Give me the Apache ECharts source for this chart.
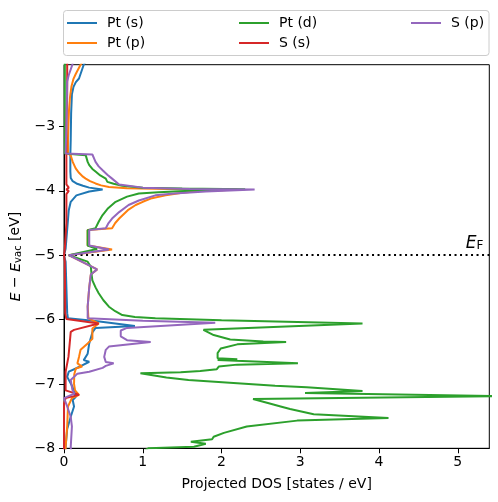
<!DOCTYPE html>
<html><head><meta charset="utf-8">
<script src="https://cdn.jsdelivr.net/npm/echarts@6/dist/echarts.min.js"></script>
<style>html,body{margin:0;padding:0;background:#fff}#c{width:498px;height:502px}</style>
</head><body><div id="c"></div>
<script>
// Projected DOS data: each point is [DOS (states/eV), E - E_vac (eV)]
const seriesNames = ['Pt (s)', 'Pt (p)', 'Pt (d)', 'S (s)', 'S (p)'];
const seriesColors = ['#1f77b4', '#ff7f0e', '#2ca02c', '#d62728', '#9467bd'];

const ptS = [[0.27,-2.00],[0.25,-2.04],[0.19,-2.255],[0.15,-2.31],[0.12,-2.385],[0.10,-2.50],[0.09,-2.80],[0.085,-3.20],[0.08,-3.45],[0.08,-3.70],[0.085,-3.80],[0.11,-3.85],[0.157,-3.885],[0.24,-3.92],[0.32,-3.95],[0.49,-3.98],[0.32,-4.01],[0.157,-4.07],[0.085,-4.17],[0.06,-4.30],[0.04,-4.60],[0.02,-4.90],[0.0,-5.00],[0.02,-5.10],[0.03,-5.50],[0.04,-5.90],[0.05,-5.98],[0.30,-6.01],[0.45,-6.03],[0.90,-6.10],[0.40,-6.13],[0.36,-6.20],[0.32,-6.37],[0.30,-6.53],[0.25,-6.63],[0.32,-6.655],[0.23,-6.71],[0.15,-6.76],[0.06,-6.81],[0.04,-6.89],[0.106,-7.04],[0.15,-7.20],[0.11,-7.25],[0.127,-7.35],[0.085,-7.51],[0.04,-7.70],[0.02,-7.98],[0.01,-8.05]];

const ptP = [[0.23,-2.00],[0.21,-2.04],[0.15,-2.18],[0.12,-2.26],[0.094,-2.38],[0.075,-2.55],[0.063,-2.75],[0.055,-3.00],[0.05,-3.20],[0.05,-3.42],[0.085,-3.45],[0.11,-3.55],[0.148,-3.65],[0.19,-3.72],[0.24,-3.78],[0.275,-3.81],[0.33,-3.85],[0.40,-3.885],[0.47,-3.915],[0.57,-3.94],[0.80,-3.96],[1.50,-3.975],[2.20,-3.98],[2.00,-3.99],[1.75,-4.00],[1.50,-4.03],[1.29,-4.07],[1.10,-4.12],[1.00,-4.17],[0.91,-4.22],[0.81,-4.30],[0.75,-4.37],[0.70,-4.43],[0.65,-4.50],[0.61,-4.58],[0.61,-4.60],[0.30,-4.61],[0.30,-4.85],[0.61,-4.91],[0.06,-5.00],[0.42,-5.22],[0.34,-5.30],[0.32,-5.50],[0.30,-5.80],[0.31,-5.98],[0.44,-6.06],[0.36,-6.14],[0.36,-6.30],[0.30,-6.37],[0.21,-6.47],[0.19,-6.58],[0.17,-6.68],[0.23,-6.73],[0.15,-6.76],[0.13,-6.85],[0.127,-7.00],[0.14,-7.10],[0.19,-7.17],[0.10,-7.22],[0.05,-7.35],[0.04,-7.66],[0.02,-7.98],[0.02,-8.05]];

const ptD = [[0.01,-2.00],[0.01,-2.30],[0.01,-3.00],[0.01,-3.42],[0.275,-3.445],[0.30,-3.55],[0.32,-3.60],[0.36,-3.66],[0.40,-3.70],[0.46,-3.76],[0.53,-3.81],[0.55,-3.86],[0.63,-3.89],[0.74,-3.92],[1.00,-3.95],[1.50,-3.965],[2.30,-3.975],[1.60,-4.00],[1.20,-4.02],[0.95,-4.04],[0.80,-4.09],[0.655,-4.17],[0.56,-4.27],[0.487,-4.38],[0.44,-4.48],[0.40,-4.58],[0.30,-4.61],[0.30,-4.85],[0.42,-4.905],[0.06,-5.00],[0.30,-5.10],[0.34,-5.18],[0.35,-5.30],[0.36,-5.39],[0.40,-5.50],[0.44,-5.59],[0.50,-5.70],[0.57,-5.80],[0.65,-5.87],[0.74,-5.93],[0.90,-5.96],[1.16,-5.98],[2.00,-6.01],[3.79,-6.06],[1.77,-6.16],[1.90,-6.24],[2.11,-6.31],[2.53,-6.34],[2.82,-6.35],[2.20,-6.385],[1.99,-6.45],[1.95,-6.52],[1.95,-6.60],[2.20,-6.615],[1.95,-6.63],[2.97,-6.68],[2.20,-6.70],[1.965,-6.73],[1.94,-6.77],[1.73,-6.80],[1.48,-6.82],[0.97,-6.835],[1.30,-6.90],[1.58,-6.94],[2.20,-6.99],[2.68,-7.03],[3.08,-7.05],[3.79,-7.11],[3.06,-7.14],[5.60,-7.19],[2.40,-7.235],[2.60,-7.30],[2.75,-7.35],[2.87,-7.39],[3.17,-7.47],[4.12,-7.53],[2.96,-7.57],[2.32,-7.66],[2.03,-7.76],[1.90,-7.82],[1.88,-7.86],[1.61,-7.90],[1.80,-7.93],[1.65,-7.975],[1.07,-8.00],[1.00,-8.05]];

const sS = [[0.04,-2.00],[0.04,-2.50],[0.03,-3.00],[0.03,-3.42],[0.03,-3.90],[0.06,-3.95],[0.03,-3.98],[0.06,-4.00],[0.03,-4.05],[0.03,-4.50],[0.01,-4.90],[0.0,-5.00],[0.01,-5.10],[0.015,-5.90],[0.03,-5.99],[0.44,-6.06],[0.127,-6.16],[0.085,-6.19],[0.072,-6.37],[0.056,-6.58],[0.02,-6.81],[0.02,-7.10],[0.15,-7.15],[0.19,-7.17],[0.02,-7.22],[0.0,-7.30],[0.0,-8.05]];

const sP = [[0.11,-2.00],[0.106,-2.04],[0.06,-2.20],[0.04,-2.30],[0.03,-2.32],[0.03,-3.00],[0.02,-3.42],[0.36,-3.435],[0.40,-3.55],[0.44,-3.62],[0.49,-3.68],[0.55,-3.75],[0.61,-3.81],[0.70,-3.90],[1.00,-3.95],[1.60,-3.97],[2.42,-3.98],[1.80,-4.01],[1.40,-4.04],[1.16,-4.07],[0.95,-4.15],[0.82,-4.22],[0.70,-4.33],[0.61,-4.43],[0.56,-4.51],[0.53,-4.58],[0.32,-4.61],[0.32,-4.85],[0.57,-4.91],[0.06,-5.00],[0.42,-5.22],[0.34,-5.30],[0.32,-5.50],[0.30,-5.80],[0.30,-5.98],[1.00,-6.02],[1.92,-6.05],[0.80,-6.13],[0.72,-6.17],[0.72,-6.26],[0.80,-6.32],[1.10,-6.35],[0.57,-6.42],[0.53,-6.47],[0.51,-6.58],[0.53,-6.66],[0.63,-6.68],[0.53,-6.72],[0.49,-6.75],[0.32,-6.81],[0.17,-6.84],[0.085,-6.94],[0.106,-7.09],[0.13,-7.15],[0.0,-7.22],[0.04,-7.35],[0.085,-7.51],[0.10,-7.66],[0.085,-7.98],[0.09,-8.05]];

const seriesData = [ptS, ptP, ptD, sS, sP];
const fermiLevel = -5;
const xTicks = [0, 1, 2, 3, 4, 5];
const yTicks = [-8, -7, -6, -5, -4, -3];
const xRange = [0, 5.4];
const yRange = [-8, -2.04];

const FONT = 'DejaVu Sans';
const minus = v => String(v).replace('-', '\u2212');

const chart = echarts.init(document.getElementById('c'), null, {renderer: 'canvas'});

const series = seriesNames.map((name, i) => ({
  name: name,
  type: 'line',
  data: seriesData[i],
  symbol: 'none',
  clip: true,
  lineStyle: {color: seriesColors[i], width: 2},
  itemStyle: {color: seriesColors[i]},
  z: 2 + i
}));

series[4].markLine = {
  silent: true,
  symbol: ['none', 'none'],
  animation: false,
  lineStyle: {color: '#000', width: 2, type: [2, 3.5]},
  label: {
    show: true,
    position: 'insideEndTop',
    distance: [6, 3],
    formatter: '{e|E}{f|F}',
    rich: {
      e: {fontFamily: FONT, fontStyle: 'italic', fontSize: 17, color: '#000', verticalAlign: 'bottom', lineHeight: 20},
      f: {fontFamily: FONT, fontSize: 12, color: '#000', verticalAlign: 'bottom', lineHeight: 9}
    }
  },
  data: [{yAxis: fermiLevel}]
};

const lineIcon = 'path://M0,0L0.01,0L0,0.01Z M0,6L30,6L30,8L0,8Z M0,14L0.01,14L0,13.99Z';

const legendBase = {
  orient: 'vertical',
  top: 16,
  itemWidth: 30,
  itemHeight: 14,
  itemGap: 6,
  padding: 0,
  icon: lineIcon,
  textStyle: {fontFamily: FONT, fontSize: 14, color: '#000', padding: [0, 0, 0, 5]}
};

const option = {
  animation: false,
  backgroundColor: '#fff',
  graphic: [{
    type: 'rect',
    shape: {x: 63.5, y: 10.5, width: 425.5, height: 45, r: 3},
    style: {fill: 'rgba(255,255,255,0.8)', stroke: '#cccccc', lineWidth: 1},
    z: -1
  }],
  legend: [
    Object.assign({}, legendBase, {data: [seriesNames[0], seriesNames[1]], left: 67}),
    Object.assign({}, legendBase, {data: [seriesNames[2], seriesNames[3]], left: 239}),
    Object.assign({}, legendBase, {data: [seriesNames[4]], left: 411})
  ],
  grid: {left: 63.3, right: 8.7, top: 64.7, bottom: 53.7, show: true, borderColor: '#000', borderWidth: 1, backgroundColor: 'transparent'},
  xAxis: {
    type: 'value',
    min: xRange[0], max: xRange[1],
    name: 'Projected DOS [states / eV]',
    nameLocation: 'middle',
    nameGap: 29,
    nameTextStyle: {fontFamily: FONT, fontSize: 14, color: '#000'},
    axisLine: {show: true, lineStyle: {color: '#000', width: 1}},
    axisTick: {show: true, length: 5, lineStyle: {color: '#000', width: 1}, customValues: xTicks},
    axisLabel: {fontFamily: FONT, fontSize: 14, color: '#000', margin: 7, customValues: xTicks, formatter: minus},
    splitLine: {show: false}
  },
  yAxis: {
    type: 'value',
    min: yRange[0], max: yRange[1],
    name: '{i|E} \u2212 {i|E}{s|vac} [eV]',
    nameLocation: 'middle',
    nameGap: 33,
    nameRotate: 90,
    nameTextStyle: {
      fontFamily: FONT, fontSize: 14, color: '#000',
      rich: {
        i: {fontFamily: FONT, fontStyle: 'italic', fontSize: 14, color: '#000', verticalAlign: 'bottom', lineHeight: 17},
        s: {fontFamily: FONT, fontSize: 10, color: '#000', verticalAlign: 'bottom', lineHeight: 11}
      }
    },
    axisLine: {show: true, lineStyle: {color: '#000', width: 1}},
    axisTick: {show: true, length: 5, lineStyle: {color: '#000', width: 1}, customValues: yTicks},
    axisLabel: {fontFamily: FONT, fontSize: 14, color: '#000', margin: 9, customValues: yTicks, formatter: minus},
    splitLine: {show: false}
  },
  series: series
};
chart.setOption(option);
</script></body></html>
